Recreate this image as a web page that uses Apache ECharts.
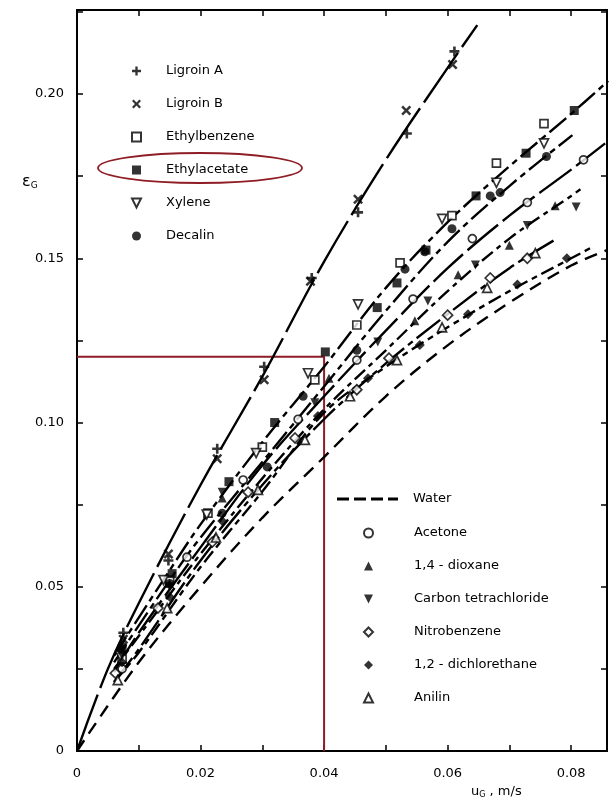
<!DOCTYPE html>
<html><head><meta charset="utf-8">
<script src="https://cdn.jsdelivr.net/npm/echarts@6/dist/echarts.min.js"></script>
<style>html,body{margin:0;padding:0;background:#fff}#c{width:616px;height:811px}</style>
</head><body><div id="c"></div>
<script>
// ---- data (x: u_G in m/s, y: epsilon_G) ----
const ligroinA = [[0.0075,0.036],[0.0148,0.058],[0.0227,0.092],[0.0303,0.117],[0.0380,0.144],[0.0455,0.164],[0.0534,0.188],[0.0611,0.213]];
const ligroinB = [[0.0075,0.034],[0.0148,0.060],[0.0227,0.089],[0.0303,0.113],[0.0378,0.143],[0.0455,0.168],[0.0533,0.195],[0.0608,0.209]];
const ethylbenzene = [[0.0073,0.028],[0.0150,0.052],[0.0212,0.0724],[0.0300,0.0925],[0.0385,0.113],[0.0453,0.1297],[0.0523,0.1486],[0.0607,0.163],[0.0679,0.179],[0.0756,0.191]];
const ethylacetate = [[0.0073,0.031],[0.0154,0.054],[0.0246,0.082],[0.0320,0.100],[0.0402,0.1215],[0.0486,0.135],[0.0518,0.1425],[0.0565,0.1525],[0.0646,0.169],[0.0727,0.182],[0.0805,0.195]];
const xylene = [[0.0070,0.029],[0.0140,0.052],[0.0210,0.072],[0.0290,0.0907],[0.0374,0.115],[0.0455,0.136],[0.0591,0.162],[0.0679,0.173],[0.0756,0.185]];
const decalin = [[0.0073,0.032],[0.0150,0.051],[0.0235,0.0724],[0.0308,0.0865],[0.0366,0.108],[0.0453,0.122],[0.0531,0.1467],[0.0563,0.152],[0.0607,0.159],[0.0669,0.169],[0.0685,0.170],[0.0760,0.181]];
const acetone = [[0.0073,0.025],[0.0178,0.059],[0.0269,0.0825],[0.0358,0.101],[0.0453,0.119],[0.0544,0.1376],[0.0640,0.156],[0.0729,0.167],[0.0820,0.180]];
const dioxane = [[0.0073,0.031],[0.0150,0.051],[0.0235,0.077],[0.0408,0.1135],[0.0547,0.131],[0.0617,0.145],[0.0700,0.154],[0.0774,0.166]];
const ccl4 = [[0.0073,0.029],[0.0150,0.050],[0.0235,0.0788],[0.0385,0.106],[0.0487,0.1245],[0.0568,0.137],[0.0645,0.148],[0.0729,0.160],[0.0808,0.1656]];
const nitrobenzene = [[0.0062,0.0237],[0.0131,0.0435],[0.0219,0.0636],[0.0277,0.0788],[0.0353,0.0953],[0.0453,0.110],[0.0505,0.1196],[0.0600,0.1327],[0.0669,0.144],[0.0729,0.150]];
const dichlorethane = [[0.0073,0.027],[0.0150,0.047],[0.0235,0.070],[0.0390,0.102],[0.0471,0.1135],[0.0555,0.1236],[0.0633,0.133],[0.0713,0.142],[0.0793,0.150]];
const anilin = [[0.0066,0.0216],[0.0146,0.0435],[0.0225,0.065],[0.0293,0.0795],[0.0369,0.0947],[0.0442,0.108],[0.0518,0.119],[0.0591,0.129],[0.0664,0.141],[0.0742,0.1516]];

// correlation curves
const curveLigroin = [[0,0],[0.005,0.025],[0.01,0.045],[0.02,0.081],[0.03,0.114],[0.04,0.149],[0.05,0.180],[0.06,0.208],[0.0648,0.221]];
const curveUpper = [[0.006,0.029],[0.015,0.055],[0.02,0.069],[0.03,0.094],[0.04,0.117],[0.05,0.141],[0.06,0.161],[0.07,0.178],[0.08,0.194],[0.086,0.204]];
const curveDecalin = [[0.006,0.027],[0.015,0.052],[0.02,0.065],[0.03,0.088],[0.04,0.111],[0.05,0.134],[0.06,0.155],[0.07,0.172],[0.0802,0.1875]];
const curveAcetone = [[0.006,0.024],[0.01,0.036],[0.02,0.062],[0.03,0.087],[0.04,0.108],[0.05,0.128],[0.06,0.147],[0.07,0.163],[0.08,0.177],[0.0855,0.185]];
const curveDioxane = [[0.006,0.025],[0.01,0.035],[0.02,0.060],[0.03,0.083],[0.04,0.104],[0.05,0.122],[0.06,0.140],[0.07,0.156],[0.08,0.169],[0.0815,0.171]];
const curveNitro = [[0.006,0.021],[0.01,0.031],[0.02,0.058],[0.03,0.081],[0.04,0.101],[0.05,0.118],[0.06,0.133],[0.07,0.147],[0.0777,0.156]];
const curveDichlor = [[0.006,0.021],[0.01,0.030],[0.02,0.056],[0.03,0.079],[0.04,0.103],[0.05,0.117],[0.06,0.129],[0.07,0.140],[0.08,0.150],[0.0834,0.1534]];
const curveWater = [[0,0],[0.01,0.027],[0.02,0.050],[0.03,0.071],[0.04,0.0895],[0.05,0.108],[0.06,0.1235],[0.07,0.1365],[0.08,0.1478],[0.0858,0.1525]];

// red guide lines (read-off at u_G = 0.04 -> eps = 0.12)
const guide = [[0,0.12],[0.04,0.12],[0.04,0]];

const xTickLabels = ['0','0.02','0.04','0.06','0.08'];
const yTickLabels = ['0','0.05','0.10','0.15','0.20'];
const legendTop = ['Ligroin A','Ligroin B','Ethylbenzene','Ethylacetate','Xylene','Decalin'];
const legendBottom = ['Acetone','1,4 - dioxane','Carbon tetrachloride','Nitrobenzene','1,2 - dichlorethane','Anilin'];

const FONT = 'DejaVu Sans';
const RED = '#8f1d25';
const PLUS = 'path://M-1.3,-5H1.3V-1.3H5V1.3H1.3V5H-1.3V1.3H-5V-1.3H-1.3Z';
const CROSS = 'path://M-4.6,-3L-3,-4.6L0,-1.6L3,-4.6L4.6,-3L1.6,0L4.6,3L3,4.6L0,1.6L-3,4.6L-4.6,3L-1.6,0Z';
const TRI_UP = 'path://M0,10L10,10L5,0Z';
const TRI_DOWN = 'path://M0,0L10,0L5,10Z';
const DASH_ICON = 'path://M0,0H12V3H0Z M17,0H29V3H17Z M34,0H46V3H34Z M51,0H61V3H51Z';

function hollow(){ return {color:'#fff', borderColor:'#000', borderWidth:1.7}; }
function solid(){ return {color:'#000', borderColor:'#000', borderWidth:0}; }

function sc(name, data, symbol, style, size){
  return {type:'scatter', name, data, symbol, symbolSize: size || 9, itemStyle: style, z: 5, silent:true};
}
function ln(name, data, dash){
  return {type:'line', name, data, symbol:'none', smooth:0.35, silent:true, z:3,
    itemStyle:{color:'#000'}, lineStyle:{color:'#000', width:2.4, type:dash}};
}

function fmtX(v){
  const r = v*100; const k = Math.round(r);
  if (Math.abs(r-k) > 1e-6 || k % 2) return '';
  return xTickLabels[k/2] || '';
}
function fmtY(v){
  const r = v*1000; const k = Math.round(r);
  if (Math.abs(r-k) > 1e-6 || k % 50) return '';
  return yTickLabels[k/50] || '';
}

const axisLineStyle = {color:'#000', width:2};
const tickStyle = {color:'#000', width:1.5};
const txt = {fontFamily:FONT, fontSize:13, color:'#000', lineHeight:16};

const option = {
  animation:false,
  backgroundColor:'#fff',
  grid:{left:77, right:9, top:10, bottom:60, containLabel:false, show:true, borderColor:'#000', borderWidth:2, backgroundColor:'transparent'},
  xAxis:[
    {type:'value', min:0, max:0.0858, interval:0.01, position:'bottom',
     axisLine:{show:true, onZero:false, lineStyle:axisLineStyle}, axisTick:{show:true, inside:true, length:6, lineStyle:tickStyle},
     axisLabel:{formatter:fmtX, margin:16, fontSize:13, color:'#000', fontFamily:FONT, showMaxLabel:false},
     splitLine:{show:false}},
    {type:'value', min:0, max:0.0858, interval:0.01, position:'top',
     axisLine:{show:false, onZero:false}, axisTick:{show:true, inside:true, length:6, lineStyle:tickStyle},
     axisLabel:{show:false}, splitLine:{show:false}}
  ],
  yAxis:[
    {type:'value', min:0, max:0.2256, interval:0.025, position:'left',
     axisLine:{show:true, onZero:false, lineStyle:axisLineStyle}, axisTick:{show:true, inside:true, length:6, lineStyle:tickStyle},
     axisLabel:{formatter:fmtY, margin:13, fontSize:13, color:'#000', fontFamily:FONT, showMaxLabel:false},
     splitLine:{show:false}},
    {type:'value', min:0, max:0.2256, interval:0.025, position:'right',
     axisLine:{show:false, onZero:false}, axisTick:{show:true, inside:true, length:6, lineStyle:tickStyle},
     axisLabel:{show:false}, splitLine:{show:false}}
  ],
  legend:[
    {data:legendTop, orient:'vertical', left:131, top:63, padding:0, itemWidth:9, itemHeight:9, itemGap:17,
     selectedMode:false, textStyle:Object.assign({padding:[0,0,0,20]}, txt)},
    {data:[{name:'Water', icon:DASH_ICON}], orient:'vertical', left:337, top:491, padding:0, itemWidth:61, itemHeight:3,
     selectedMode:false, textStyle:Object.assign({padding:[0,0,0,10]}, txt)},
    {data:legendBottom, orient:'vertical', left:363, top:525, padding:0, itemWidth:9, itemHeight:9, itemGap:17,
     selectedMode:false, textStyle:Object.assign({padding:[0,0,0,36]}, txt)}
  ],
  graphic:[
    {type:'ellipse', shape:{cx:200, cy:168, rx:102, ry:15}, style:{fill:'none', stroke:RED, lineWidth:1.8}, z:10, silent:true},
    {type:'text', left:22, top:174, style:{text:'{e|ε}{s|G}', rich:{e:{fontSize:16, fontFamily:FONT, fill:'#000'}, s:{fontSize:9, fontFamily:FONT, fill:'#000', padding:[8,0,0,0]}}}},
    {type:'text', left:471, top:785, style:{text:'{u|u}{s|G}{u| , m/s}', rich:{u:{fontSize:13, fontFamily:FONT, fill:'#000'}, s:{fontSize:8, fontFamily:FONT, fill:'#000', padding:[7,0,0,0]}}}}
  ],
  series:[
    {type:'line', name:'guide', data:guide, symbol:'none', silent:true, z:2, lineStyle:{color:RED, width:2}},
    ln('Water', curveWater, [13,8]),
    ln('fitLigroin', curveLigroin, [60,7]),
    ln('fitUpper', curveUpper, [22,5,6,5]),
    ln('fitDecalin', curveDecalin, [22,5,6,5]),
    ln('fitAcetone', curveAcetone, [40,6]),
    ln('fitDioxane', curveDioxane, [14,5,5,5]),
    ln('fitNitro', curveNitro, [30,5,6,5]),
    ln('fitDichlor', curveDichlor, [14,5,6,5]),
    sc('Ligroin A', ligroinA, PLUS, solid(), 10),
    sc('Ligroin B', ligroinB, CROSS, solid(), 10),
    sc('Ethylbenzene', ethylbenzene, 'rect', hollow(), 8),
    sc('Ethylacetate', ethylacetate, 'rect', solid()),
    sc('Xylene', xylene, TRI_DOWN, hollow()),
    sc('Decalin', decalin, 'circle', solid()),
    sc('Acetone', acetone, 'circle', hollow(), 8),
    sc('1,4 - dioxane', dioxane, TRI_UP, solid()),
    sc('Carbon tetrachloride', ccl4, TRI_DOWN, solid()),
    sc('Nitrobenzene', nitrobenzene, 'diamond', hollow(), 10),
    sc('1,2 - dichlorethane', dichlorethane, 'diamond', solid(), 10),
    sc('Anilin', anilin, TRI_UP, hollow())
  ]
};
const chart = echarts.init(document.getElementById('c'));
chart.setOption(option);
</script></body></html>
